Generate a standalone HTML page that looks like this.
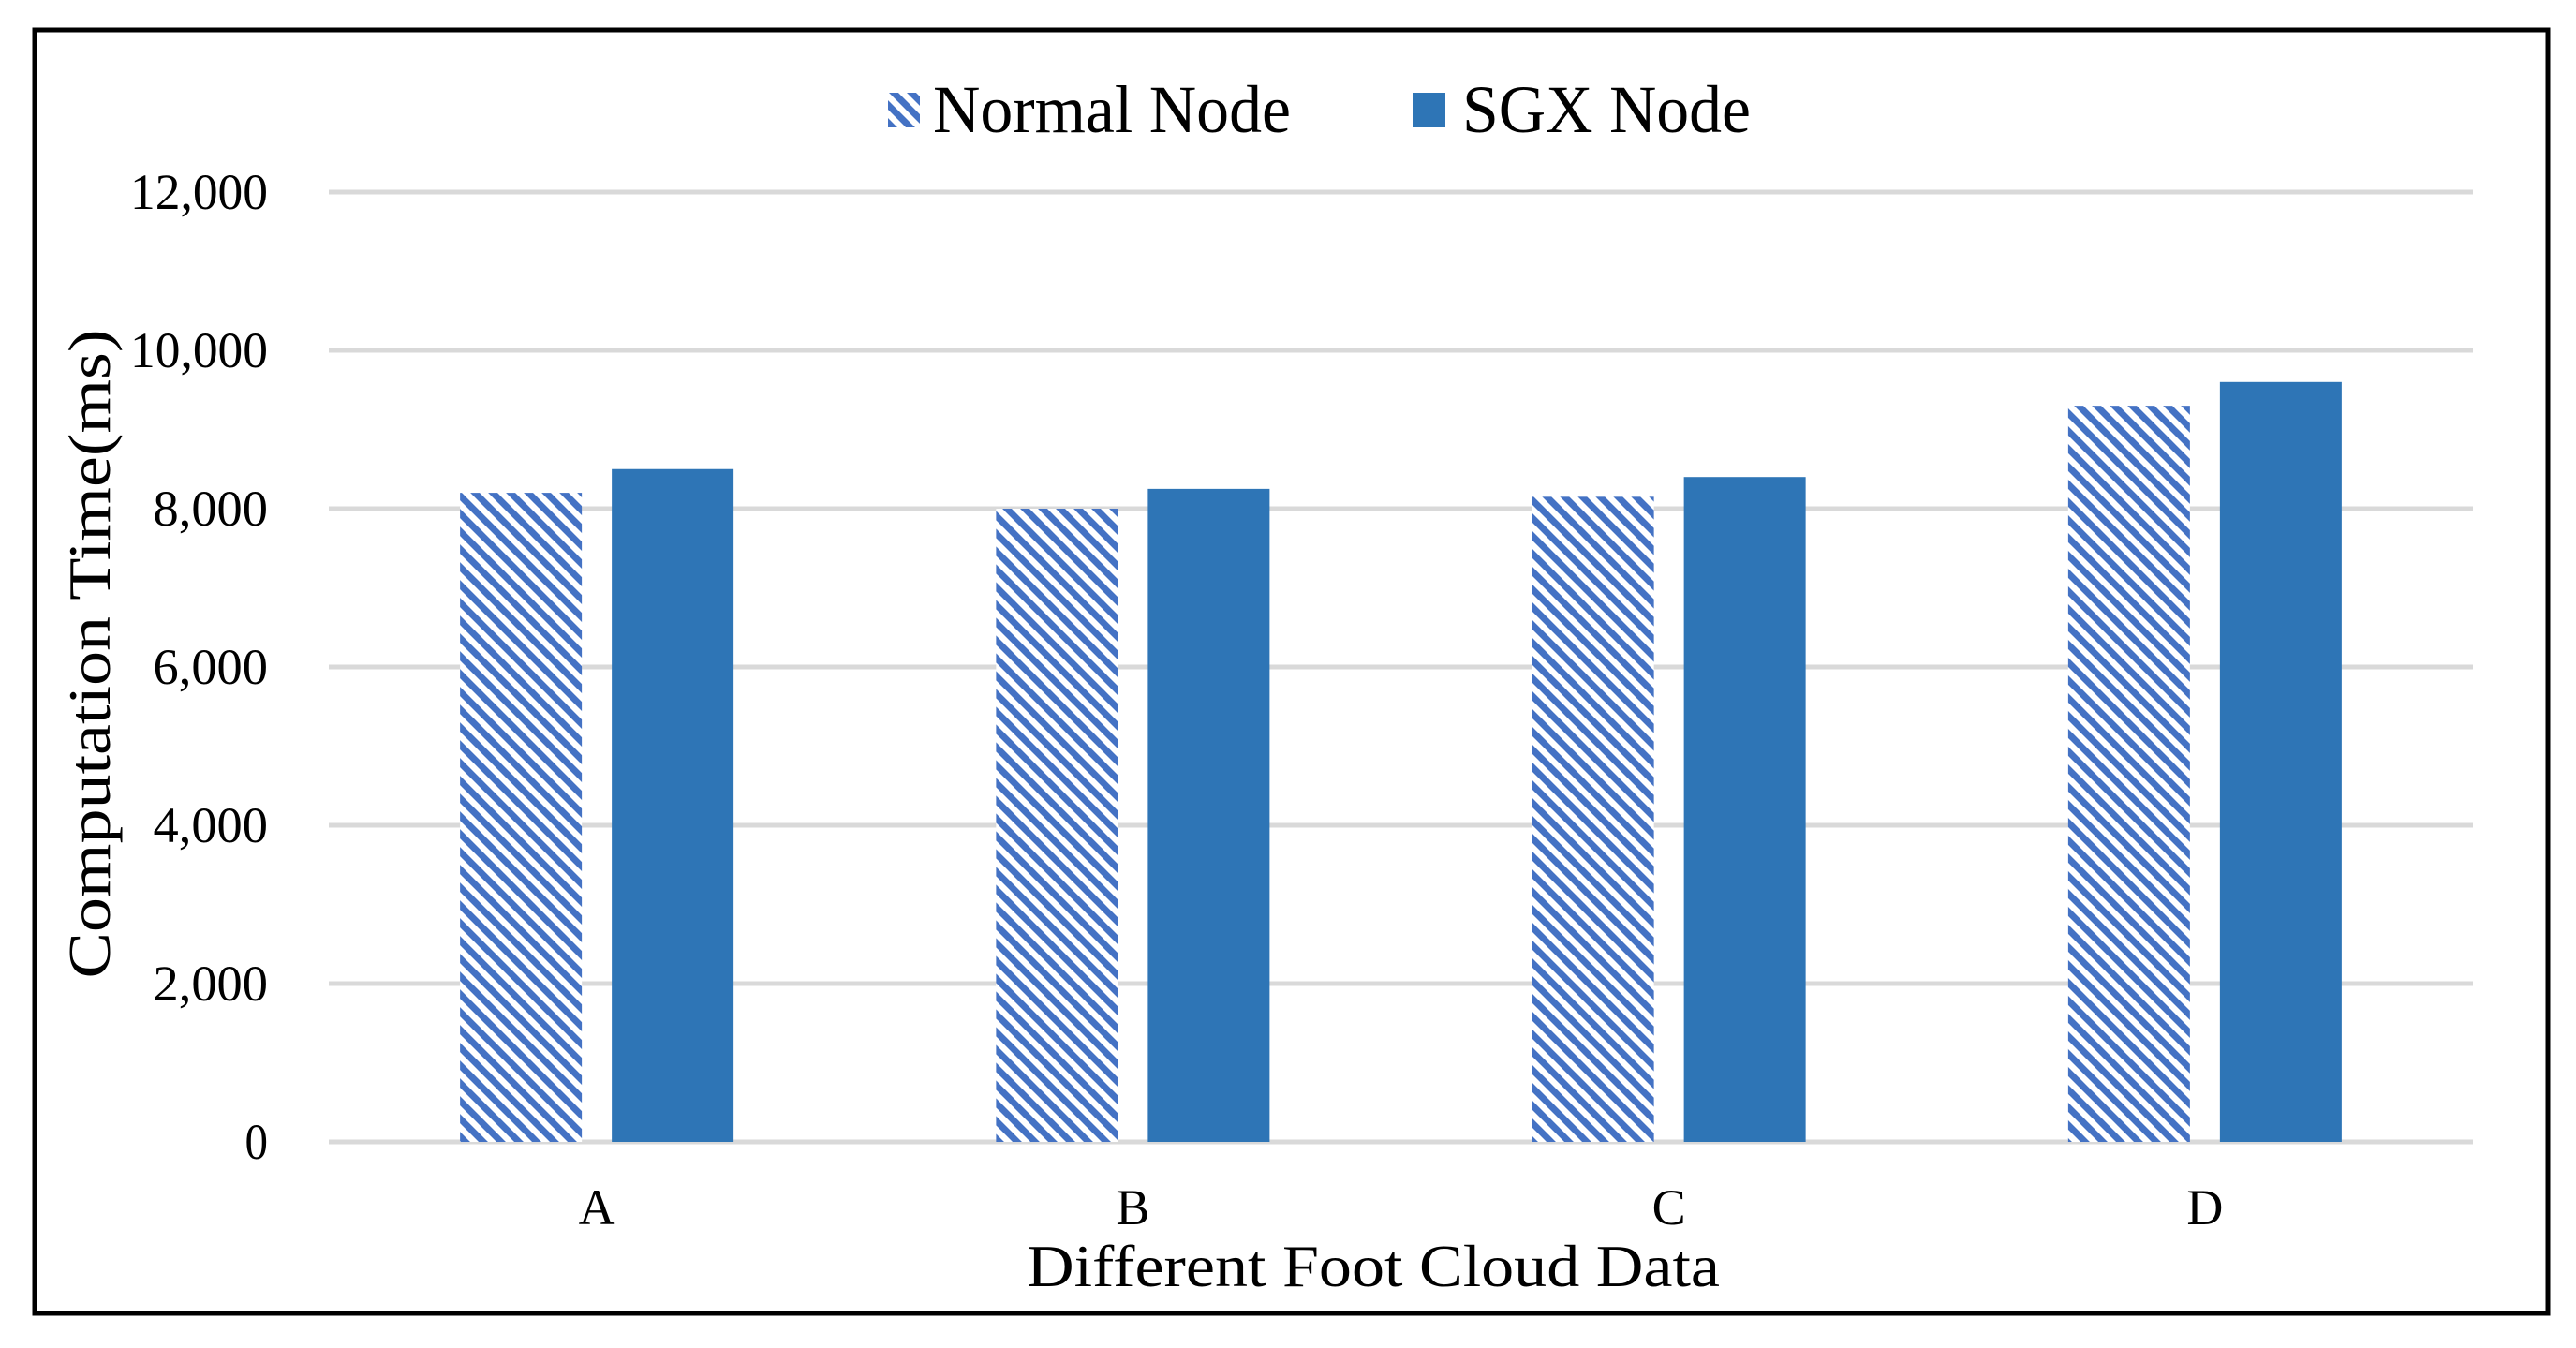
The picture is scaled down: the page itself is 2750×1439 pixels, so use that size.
<!DOCTYPE html>
<html><head><meta charset="utf-8"><style>
html,body{margin:0;padding:0;background:#fff}
svg{display:block}
text{font-family:"Liberation Serif",serif;fill:#000}
</style></head><body>
<svg id="chart" width="2750" height="1439" viewBox="0 0 2750 1439" xmlns="http://www.w3.org/2000/svg">
<defs>
<pattern id="hatch" patternUnits="userSpaceOnUse" width="19" height="19">
<rect width="19" height="19" fill="#fff"/>
<path d="M-5,-5 L24,24 M-5,14 L5,24 M14,-5 L24,5" stroke="#4472C4" stroke-width="7"/>
</pattern>
</defs>
<rect x="37" y="32" width="2683" height="1370" fill="#fff" stroke="#000" stroke-width="5"/>
<g id="grid"></g>
<g id="bars"></g>
<g id="labels"></g>
<g>
<rect x="948" y="99" width="34" height="37" fill="url(#hatch)"/>
<text x="996" y="141" font-size="72" textLength="382" lengthAdjust="spacingAndGlyphs">Normal Node</text>
<rect x="1508" y="99" width="35" height="37" fill="#2E75B6"/>
<text x="1561" y="141" font-size="72" textLength="308" lengthAdjust="spacingAndGlyphs">SGX Node</text>
</g>
<text transform="translate(117,698) rotate(-90)" text-anchor="middle" font-size="64" textLength="693" lengthAdjust="spacingAndGlyphs">Computation Time(ms)</text>
<text x="1466" y="1373" text-anchor="middle" font-size="64" textLength="740" lengthAdjust="spacingAndGlyphs">Different Foot Cloud Data</text>
</svg>
<script>
const categories = ["A","B","C","D"];
const normalValues = [8200, 8000, 8150, 9300];
const sgxValues = [8500, 8250, 8400, 9600];
const yTicks = [0, 2000, 4000, 6000, 8000, 10000, 12000];
const yTickLabels = ["0","2,000","4,000","6,000","8,000","10,000","12,000"];

const NS = "http://www.w3.org/2000/svg";
const plotL = 351, plotR = 2640, y0 = 1219, yTop = 205, yMax = 12000;
const yScale = v => y0 - (v / yMax) * (y0 - yTop);
const band = (plotR - plotL) / categories.length;
const xCenter = i => plotL + band * (i + 0.5);
const barW = 130;

const grid = document.getElementById('grid');
const labels = document.getElementById('labels');
const bars = document.getElementById('bars');

yTicks.forEach((t, i) => {
  const l = document.createElementNS(NS, 'line');
  
  
  l.setAttribute('x1', plotL); l.setAttribute('x2', plotR);
  l.setAttribute('y1', yScale(t)); l.setAttribute('y2', yScale(t));
  l.setAttribute('stroke', '#d9d9d9'); l.setAttribute('stroke-width', '5');
  grid.appendChild(l);
  const tx = document.createElementNS(NS, 'text');
  
  
  tx.setAttribute('x', 286); tx.setAttribute('y', yScale(t) + 18);
  tx.setAttribute('text-anchor', 'end'); tx.setAttribute('font-size', '54');
  tx.setAttribute('textLength', yTickLabels[i].length * 24.5);
  tx.setAttribute('lengthAdjust', 'spacingAndGlyphs');
  tx.textContent = yTickLabels[i];
  labels.appendChild(tx);
});

categories.forEach((c, i) => {
  const cx = xCenter(i);
  const r1 = document.createElementNS(NS, 'rect');
  
  
  r1.setAttribute('x', cx - 81 - barW / 2); r1.setAttribute('width', barW);
  r1.setAttribute('y', yScale(normalValues[i])); r1.setAttribute('height', y0 - yScale(normalValues[i]));
  r1.setAttribute('fill', 'url(#hatch)');
  bars.appendChild(r1);
  const r2 = document.createElementNS(NS, 'rect');
  
  
  r2.setAttribute('x', cx + 81 - barW / 2); r2.setAttribute('width', barW);
  r2.setAttribute('y', yScale(sgxValues[i])); r2.setAttribute('height', y0 - yScale(sgxValues[i]));
  r2.setAttribute('fill', '#2E75B6');
  bars.appendChild(r2);
  const tx = document.createElementNS(NS, 'text');
  
  
  tx.setAttribute('x', cx); tx.setAttribute('y', 1307);
  tx.setAttribute('text-anchor', 'middle'); tx.setAttribute('font-size', '54');
  tx.textContent = c;
  labels.appendChild(tx);
});
</script>
</body></html>
